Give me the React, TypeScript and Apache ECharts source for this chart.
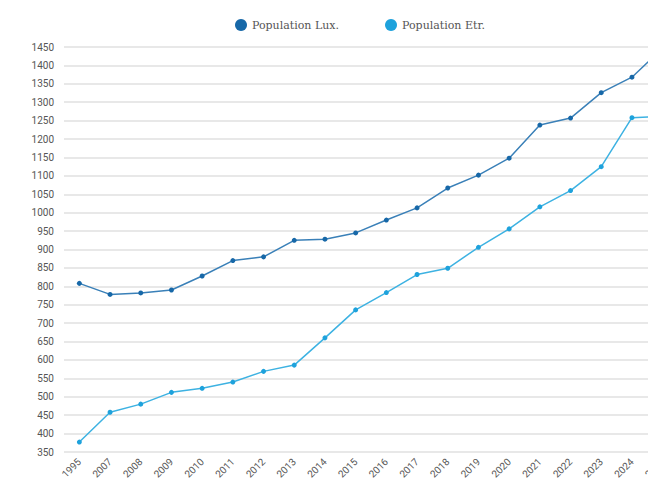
import React, { useEffect, useRef } from "react";
import * as echarts from "echarts";

const years = ["1995", "2007", "2008", "2009", "2010", "2011", "2012", "2013", "2014", "2015", "2016", "2017", "2018", "2019", "2020", "2021", "2022", "2023", "2024", "2025"];
const popLux = [808, 778, 782, 790, 828, 870, 880, 925, 928, 945, 980, 1013, 1067, 1102, 1148, 1238, 1257, 1326, 1368, 1447];
const popEtr = [377, 458, 480, 512, 523, 540, 569, 586, 660, 736, 783, 832, 849, 906, 956, 1016, 1060, 1125, 1258, 1262];

export default function App() {
  const ref = useRef<HTMLDivElement>(null);
  useEffect(() => {
    if (!ref.current) return;
    const chart = echarts.init(ref.current, undefined, { renderer: "svg" });
    chart.setOption({
      animation: false,
      legend: {
        top: 14,
        left: 230,
        icon: "circle",
        itemWidth: 12,
        itemHeight: 12,
        itemGap: 46,
        textStyle: { fontFamily: "DejaVu Serif", fontSize: 11, color: "#555" },
        data: ["Population Lux.", "Population Etr."],
      },
      grid: { left: 64, top: 47, width: 614, height: 405 },
      xAxis: {
        type: "category",
        data: years,
        boundaryGap: true,
        axisLine: { show: false },
        axisTick: { show: false },
        axisLabel: { rotate: 45, fontSize: 10, color: "#555", fontFamily: "Roboto", margin: 8 },
      },
      yAxis: {
        type: "value",
        min: 350,
        max: 1450,
        interval: 50,
        axisLine: { show: false },
        axisTick: { show: false },
        axisLabel: { fontSize: 10, color: "#555", fontFamily: "Roboto", margin: 10, formatter: (v: number) => String(v) },
        splitLine: { lineStyle: { color: "#e8e8e8", width: 2 } },
      },
      series: [
        {
          name: "Population Lux.",
          type: "line",
          data: popLux,
          symbol: "circle",
          symbolSize: 5,
          color: "#0a64a8",
          lineStyle: { color: "#3a80b8", width: 1.5 },
          itemStyle: { color: "#1768a8" },
        },
        {
          name: "Population Etr.",
          type: "line",
          data: popEtr,
          symbol: "circle",
          symbolSize: 5,
          color: "#1ea2dc",
          lineStyle: { color: "#3db2e2", width: 1.5 },
          itemStyle: { color: "#1ea2dc" },
        },
      ],
    });
    return () => chart.dispose();
  }, []);
  return (
    <div style={{ position: "fixed", left: 0, top: 0, width: 648, height: 485, overflow: "hidden", background: "#fff" }}>
      <div ref={ref} style={{ width: 736, height: 485 }} />
    </div>
  );
}
